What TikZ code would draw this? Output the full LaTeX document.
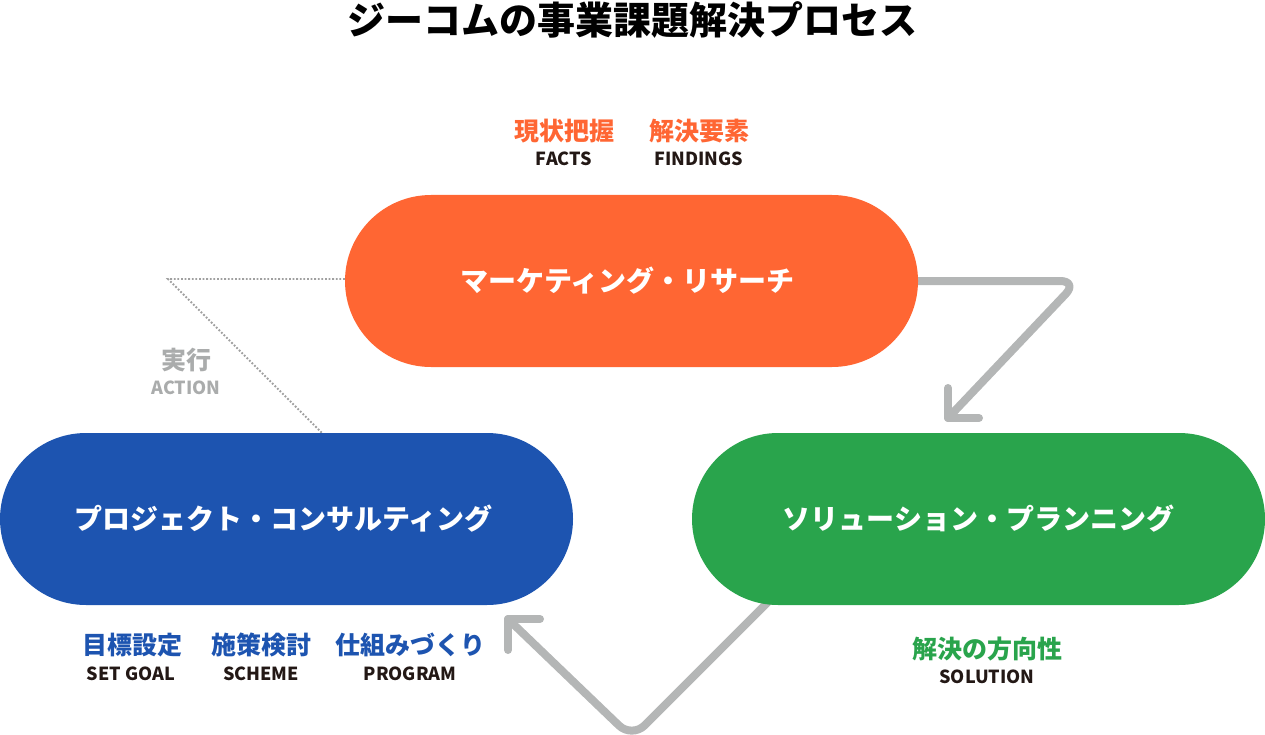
\documentclass[tikz,border=0pt]{standalone}
\usepackage{fontspec}
\setmainfont{Noto Sans CJK JP}
\usetikzlibrary{calc}
\definecolor{cOrange}{RGB}{255,102,51}
\definecolor{cBlue}{RGB}{29,84,176}
\definecolor{cGreen}{RGB}{41,164,76}
\definecolor{cDark}{RGB}{35,24,21}
\definecolor{cGray}{RGB}{180,182,182}
\definecolor{cDot}{RGB}{160,160,160}
\definecolor{cText}{RGB}{170,172,172}
\pgfdeclarelayer{bg}
\pgfsetlayers{bg,main}
\tikzset{
  pill/.style={rectangle, rounded corners=86pt, minimum width=573pt, minimum height=172pt,
    inner sep=0pt, text=white, font=\bfseries\fontsize{28}{32}\selectfont},
  jlabel/.style={font=\bfseries\fontsize{25}{28}\selectfont, inner sep=0pt},
  elabel/.style={font=\bfseries\fontsize{18}{20}\selectfont, text=cDark, inner sep=0pt},
  flow/.style={draw=cGray, line width=8pt, line cap=round, line join=round, rounded corners=18pt},
  flowhead/.style={draw=cGray, line width=8pt, line cap=round, line join=round},
  dotline/.style={draw=cDot, line width=1.8pt, dash pattern=on 1.8pt off 1.8pt}
}
\begin{document}
\begin{tikzpicture}[x=1pt,y=-1pt]
\useasboundingbox (0,0) rectangle (1265,735);
% title
\node[font=\bfseries\fontsize{38}{42}\selectfont, inner sep=0pt] (title) at (632,20) {ジーコムの事業課題解決プロセス};
% pills
\node[pill, fill=cOrange] (research) at (631.5,281) {\hspace*{-8pt}マーケティング・リサーチ};
\node[pill, fill=cBlue] (consult) at (286.5,519) {\hspace*{-6pt}プロジェクト・コンサルティング};
\node[pill, fill=cGreen] (solution) at (978.5,519) {ソリューション・プランニング};
% labels
\node[jlabel, text=cOrange] (facts) at (564,131) {現状把握};
\node[elabel] (factsE) at (564,159) {FACTS};
\node[jlabel, text=cOrange] (find) at (699,131) {解決要素};
\node[elabel] (findE) at (699,159) {FINDINGS};
\node[jlabel, text=cBlue] (goal) at (132,645) {目標設定};
\node[elabel] (goalE) at (131,674) {SET GOAL};
\node[jlabel, text=cBlue] (scheme) at (261,645) {施策検討};
\node[elabel] (schemeE) at (261,674) {SCHEME};
\node[jlabel, text=cBlue] (prog) at (410,645) {仕組みづくり};
\node[elabel] (progE) at (410,674) {PROGRAM};
\node[jlabel, text=cGreen] (dir) at (987,649) {解決の方向性};
\node[elabel] (dirE) at (987,677) {SOLUTION};
\node[jlabel, text=cText] (act) at (186,360) {実行};
\node[elabel, text=cText] (actE) at (186,388) {ACTION};
% coordinates
\coordinate (dotcorner) at (168,279);
\coordinate (dotend) at (322,433);
\coordinate (bend1) at (1078,281);
\coordinate (tip1) at (948,418);
\coordinate (s2) at (782,588);
\coordinate (bend2) at (632,738);
\coordinate (tip2) at (508,619);
\begin{pgfonlayer}{bg}
\draw[dotline] (research.west) ++(0,-2) -- (dotcorner) -- (dotend);
\draw[flow] (research.east) -- (bend1) -- (tip1);
\draw[flowhead] ($(tip1)+(0,-30)$) -- (tip1) -- ($(tip1)+(31,0)$);
\draw[flow] (s2) -- (bend2) -- (tip2);
\draw[flowhead] ($(tip2)+(0,31)$) -- (tip2) -- ($(tip2)+(32,0)$);
\end{pgfonlayer}
\end{tikzpicture}
\end{document}
